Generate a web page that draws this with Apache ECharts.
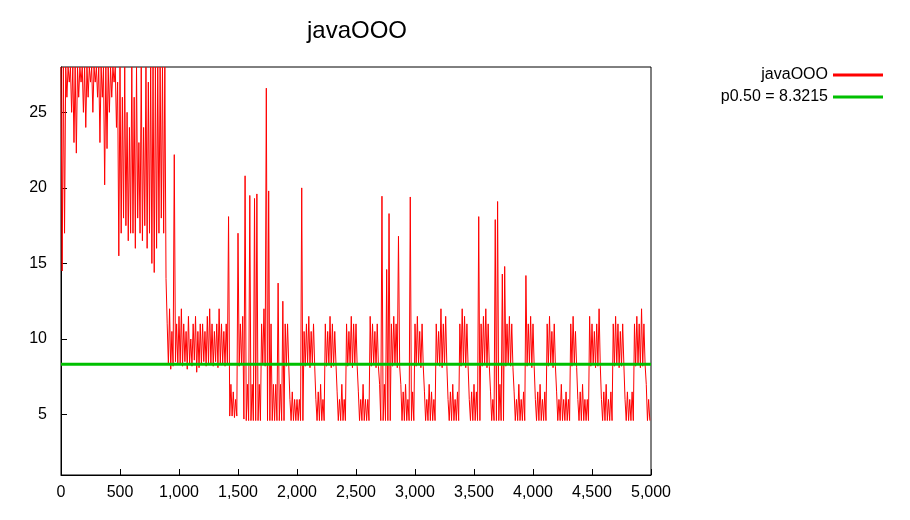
<!DOCTYPE html>
<html>
<head>
<meta charset="utf-8">
<script src="https://cdn.jsdelivr.net/npm/echarts@6/dist/echarts.min.js"></script>
<style>html,body{margin:0;padding:0;background:#fff}#main{width:910px;height:520px}</style>
</head>
<body>
<div id="main"></div>
<script>
// per 20-unit bin: upper and lower envelope
var binStep = 20;
var hiVals = [
  28,28,28,28,28,28,28,28,28,28,
  28,28,28,28,28,28,28,28,28,28,
  28,28,28,28,27,28,26,28,25,24,
  28,26,28,23,28,24,28,27,28,28,
  28,28,28,28,28,11,12,10.5,22.2,11,
  11.5,12,11,10.5,11.5,10,11,11.5,10.5,11,
  11,10.5,11.5,12,11,10.5,11,12,11,10.5,
  11,18.1,7,6.5,6,17,11,11.5,20.8,7,
  19.5,7,19.3,19.6,7,11,12,26.6,19.8,11,
  7,7,13.7,7,12.5,11,11,6,6.5,6,
  6,6,20,10.5,11,11.5,10.5,11,6,6.5,
  7,6,11,10.5,11.5,11,10.5,6.5,6,7,
  6,11,10.5,11.5,11,11,6.5,6,7,6,
  6,11.5,11,10.5,11,7,19.45,7,14.6,18.3,
  11,11.5,11,16.8,7,6.5,7,6,19.4,6.5,
  11,11.5,10.5,11,6.5,6,7,6.5,6,11,
  10.5,12,11,11.5,6,6.5,7,6,6.5,11,
  12,11.5,11,6,6.5,7,6.5,18.1,11,11.5,
  12,11,6.5,6,17.9,19.1,7,14.3,14.8,11,
  11.5,11,6.5,6,7,6,6.5,14.2,11,11.5,
  11,6,6.5,7,6,6.5,11,11.5,10.5,11,
  6.5,6,7,6,6.5,6,11,11.5,10.5,6,
  6.5,7,6,6,11.5,11,10.5,11,12,6,
  6.5,7,6,6.5,11,11.5,11,10.5,11,6,
  6.5,6,6.5,11,11.5,11,12,11,7,6
];
var loVals = [
  14.5,17,26,27,25,23,22.3,26,27,25,
  24,26,27,25,27,26,23,26,20.2,22.6,
  25,26,27,24,15.5,17,18,17.5,16.5,17,
  17,16,18,17,16.5,17.5,16,17,15,14.4,
  16,17,18,17,14,8.3,8,8.2,8.5,8.3,
  8.3,8.2,8.5,8,8.4,8.2,8.6,7.8,8.1,8.3,
  8.5,8.2,8.4,8.3,8.2,8.5,8.1,8.3,8.4,8.2,
  8.3,4.9,4.9,4.8,4.9,8.2,8.3,4.7,4.6,4.6,
  4.6,4.6,4.6,4.6,4.6,8.3,8.2,4.6,4.6,4.6,
  4.6,4.6,4.6,4.6,4.6,8.2,8.3,4.6,4.6,4.6,
  4.6,4.6,4.6,8.2,8.3,8.1,8.4,8.2,4.6,4.6,
  4.6,4.6,8.2,8.3,8.1,8.2,8.4,4.6,4.6,4.6,
  4.6,8.2,8.3,8.1,8.3,8.2,4.6,4.6,4.6,4.6,
  4.6,8.2,8.3,8.1,8.2,4.6,4.6,4.6,4.6,4.6,
  8.2,8.3,8.1,8.2,4.6,4.6,4.6,4.6,4.6,4.6,
  8.2,8.3,8.1,8.2,4.6,4.6,4.6,4.6,4.6,8.3,
  8.2,8.1,8.3,8.2,4.6,4.6,4.6,4.6,4.6,8.2,
  8.3,8.1,8.2,4.6,4.6,4.6,4.6,4.6,8.2,8.3,
  8.1,8.2,4.6,4.6,4.6,4.6,4.6,4.6,8.2,8.3,
  8.2,8.1,4.6,4.6,4.6,4.6,4.6,8.2,8.3,8.1,
  8.2,4.6,4.6,4.6,4.6,4.6,8.2,8.3,8.1,8.2,
  4.6,4.6,4.6,4.6,4.6,4.6,8.2,8.3,8.1,4.6,
  4.6,4.6,4.6,4.6,8.2,8.3,8.1,8.2,8.3,4.6,
  4.6,4.6,4.6,4.6,8.2,8.3,8.1,8.2,8.3,4.6,
  4.6,4.6,4.6,8.2,8.3,8.1,8.2,8.3,4.6,4.6
];
var p50 = 8.3215;
var yTicks = [5, 10, 15, 20, 25];

var line = [];
for (var i = 0; i < hiVals.length; i++) {
  line.push([i * binStep, hiVals[i]]);
  line.push([i * binStep + binStep / 2, loVals[i]]);
}

var myChart = echarts.init(document.getElementById('main'));
var font = 'Liberation Sans';
var option = {
  animation: false,
  title: {
    text: 'javaOOO', left: 352, top: 14, textAlign: 'center',
    textStyle: {fontFamily: font, fontSize: 24, fontWeight: 'normal', color: '#000'}
  },
  legend: {
    orient: 'vertical', right: 22, top: 62, align: 'right',
    itemWidth: 50, itemHeight: 3, itemGap: 6,
    icon: 'rect',
    textStyle: {fontFamily: font, fontSize: 16, color: '#000'},
    data: ['javaOOO', 'p0.50 = 8.3215']
  },
  grid: {left: 61, right: 259, top: 67, bottom: 45, show: true, borderColor: '#000', borderWidth: 1},
  xAxis: {
    type: 'value', min: 0, max: 5000, interval: 500,
    axisLine: {lineStyle: {color: '#000'}},
    axisTick: {inside: true, length: 6, lineStyle: {color: '#000'}},
    axisLabel: {fontFamily: font, fontSize: 16, color: '#000', margin: 10},
    splitLine: {show: false}
  },
  yAxis: {
    type: 'value', min: 1, max: 28,
    axisLine: {show: true, lineStyle: {color: '#000'}},
    axisTick: {inside: true, length: 6, customValues: yTicks, lineStyle: {color: '#000'}},
    axisLabel: {fontFamily: font, fontSize: 16, color: '#000', margin: 14, customValues: yTicks},
    splitLine: {show: false}
  },
  series: [{
    name: 'javaOOO', type: 'line', data: line, symbol: 'none',
    lineStyle: {color: '#ff0000', width: 1}, itemStyle: {color: '#ff0000'}, clip: true
  }, {
    name: 'p0.50 = 8.3215', type: 'line', data: [[0, p50], [5000, p50]], symbol: 'none',
    lineStyle: {color: '#00c000', width: 3}, itemStyle: {color: '#00c000'}
  }]
};
myChart.setOption(option);
</script>
</body>
</html>
